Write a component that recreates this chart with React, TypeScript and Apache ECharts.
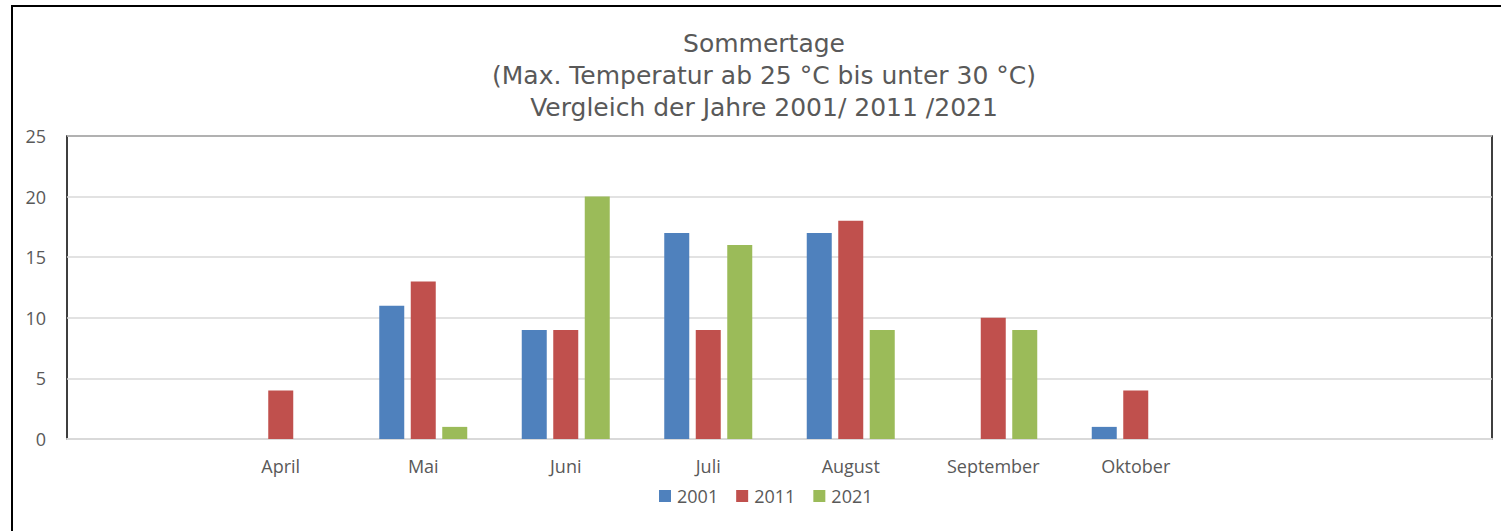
import React, { useEffect, useRef } from "react";
import * as echarts from "echarts";

const categories = ["", "April", "Mai", "Juni", "Juli", "August", "September", "Oktober", "", ""];
const seriesNames = ["2001", "2011", "2021"];
const values2001 = [null, null, 11, 9, 17, 17, null, 1, null, null];
const values2011 = [null, 4, 13, 9, 9, 18, 10, 4, null, null];
const values2021 = [null, null, 1, 20, 16, 9, 9, null, null, null];
const colors = ["#4F81BD", "#C0504D", "#9BBB59"];
const titleLines = [
  "Sommertage",
  "(Max. Temperatur ab 25 °C bis unter 30 °C)",
  "Vergleich der Jahre 2001/ 2011 /2021",
];

const FONT = "'Open Sans', sans-serif";
const TITLE_FONT = "'DejaVu Sans', sans-serif";

export default function App() {
  const ref = useRef<HTMLDivElement>(null);
  useEffect(() => {
    if (!ref.current) return;
    const chart = echarts.init(ref.current, null, { renderer: "svg" });
    const allValues = [values2001, values2011, values2021];
    chart.setOption({
      animation: false,
      backgroundColor: "#ffffff",
      textStyle: { fontFamily: FONT },
      title: titleLines.map((line, i) => ({
        text: line,
        left: 764,
        top: 28 + i * 32,
        padding: 0,
        textAlign: "center",
        textStyle: {
          fontFamily: TITLE_FONT,
          fontSize: 25,
          fontWeight: "normal",
          color: "#595959",
          lineHeight: 30,
        },
      })),
      graphic: [
        {
          type: "rect",
          z: -10,
          silent: true,
          shape: { x: 12, y: 6, width: 1600, height: 600 },
          style: { fill: "none", stroke: "#000000", lineWidth: 2 },
        },
      ],
      legend: {
        data: seriesNames,
        left: 659,
        top: 487,
        padding: 0,
        itemWidth: 12,
        itemHeight: 12,
        itemGap: 18,
        icon: "rect",
        textStyle: { fontFamily: FONT, fontSize: 18, color: "#595959", padding: [0, 0, 0, 1] },
      },
      grid: {
        left: 67,
        top: 136,
        right: 9,
        bottom: 92,
        show: true,
        borderColor: "#000000",
        borderWidth: 1.5,
        containLabel: false,
      },
      xAxis: {
        type: "category",
        data: categories,
        axisTick: { show: false },
        axisLine: { show: true, lineStyle: { color: "#d9d9d9", width: 2 } },
        axisLabel: {
          interval: 0,
          margin: 18,
          fontFamily: FONT,
          fontSize: 18,
          color: "#595959",
        },
      },
      yAxis: {
        type: "value",
        min: 0,
        max: 25,
        interval: 5,
        axisLine: { show: false },
        axisTick: { show: false },
        splitLine: { lineStyle: { color: "#d9d9d9", width: 1.5 } },
        axisLabel: { margin: 21, fontFamily: FONT, fontSize: 18, color: "#595959" },
      },
      series: seriesNames.map((name, i) => ({
        name,
        type: "bar",
        data: allValues[i],
        barWidth: 25,
        barGap: "26%",
        itemStyle: { color: colors[i] },
      })),
    });
    return () => chart.dispose();
  }, []);
  return (
    <div
      ref={ref}
      style={{ position: "absolute", left: 0, top: 0, width: 1501, height: 531 }}
    />
  );
}
